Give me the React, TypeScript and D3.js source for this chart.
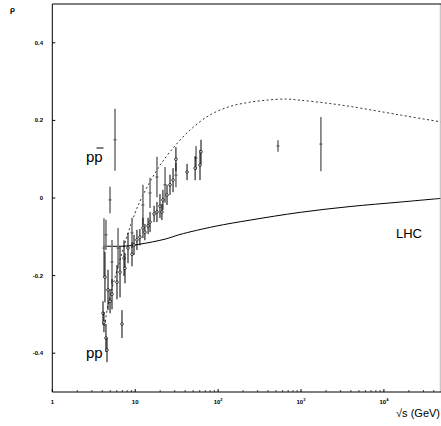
import React from "react";
import * as d3 from "d3";

// sqrt(s) in GeV, rho, error on rho
const ppS = [4.09, 4.2, 4.44, 4.57, 4.32, 4.7, 4.97, 5.25, 6.03, 6.56, 6.93, 7.33, 7.53, 8.19, 9.15, 9.68, 10.5, 11.4, 12.4, 13.1, 14.3, 15.1, 16.9, 18.3, 19.9, 21.6, 21.0, 24.2, 26.3, 28.6, 31.0, 42.2, 52.8, 60.5, 62.2];
const ppRho = [-0.297, -0.32, -0.361, -0.392, -0.204, -0.237, -0.266, -0.248, -0.217, -0.191, -0.325, -0.155, -0.181, -0.129, -0.145, -0.121, -0.108, -0.101, -0.077, -0.088, -0.072, -0.062, -0.041, -0.036, -0.021, -0.005, -0.036, 0.008, 0.034, 0.046, 0.1, 0.067, 0.077, 0.085, 0.119];
const ppErr = [0.031, 0.026, 0.036, 0.031, 0.065, 0.052, 0.031, 0.039, 0.044, 0.065, 0.036, 0.046, 0.039, 0.039, 0.031, 0.026, 0.026, 0.021, 0.026, 0.021, 0.021, 0.026, 0.021, 0.026, 0.031, 0.026, 0.021, 0.026, 0.026, 0.031, 0.031, 0.021, 0.031, 0.039, 0.031];

const pbarS = [4.97, 5.71, 4.2, 4.44, 5.25, 6.21, 9.15, 12.4, 15.1, 18.3, 22.9, 31.0, 54.2, 528, 1738];
const pbarRho = [-0.005, 0.15, -0.129, -0.095, -0.165, -0.129, -0.09, -0.018, 0.013, 0.054, 0.034, 0.059, 0.103, 0.134, 0.139];
const pbarErr = [0.034, 0.08, 0.077, 0.039, 0.057, 0.052, 0.039, 0.052, 0.039, 0.052, 0.046, 0.031, 0.031, 0.015, 0.07];

// model curves
const dashS = [4.3, 4.7, 7.53, 9.95, 12.1, 18.3, 26.3, 45.8, 79.8, 139, 243, 423, 678, 977, 1950, 3908, 15670, 48900];
const dashRho = [-0.33, -0.276, -0.116, -0.039, 0.003, 0.072, 0.119, 0.175, 0.214, 0.236, 0.247, 0.253, 0.255, 0.252, 0.245, 0.236, 0.214, 0.196];
const solidS = [4.09, 7.53, 11.4, 22.9, 34.7, 91.8, 243, 977, 3908, 15670, 48900];
const solidRho = [-0.124, -0.124, -0.119, -0.106, -0.094, -0.073, -0.057, -0.037, -0.022, -0.0105, -0.001];

const yTicks = [0.4, 0.2, 0, -0.2, -0.4];
const yTickLabels = ["0.4", "0.2", "0", "-0.2", "-0.4"];
const xDecades = [0, 1, 2, 3, 4];

const W = 441;
const H = 426;
const left = 52.3;
const right = 440.3;
const top = 4;
const bottom = 392;

export default function App() {
  const x = d3.scaleLog().domain([1, Math.pow(10, (right - left) / 82.9)]).range([left, right]);
  const y = d3.scaleLinear().domain([-0.5, 0.5]).range([bottom, top]);

  const line = d3
    .line<[number, number]>()
    .x((d) => x(d[0]))
    .y((d) => y(d[1]))
    .curve(d3.curveCatmullRom.alpha(0.5));

  const dashPts = dashS.map((s, i) => [s, dashRho[i]] as [number, number]);
  const solidPts = solidS.map((s, i) => [s, solidRho[i]] as [number, number]);

  const minor: number[] = [];
  xDecades.forEach((d) => {
    for (let k = 2; k <= 9; k++) {
      const v = k * Math.pow(10, d);
      if (x(v) < right) minor.push(v);
    }
  });

  const font = "Arial, 'Liberation Sans', sans-serif";

  return (
    <svg
      width={W}
      height={H}
      style={{ position: "absolute", left: 0, top: 0, background: "#fff" }}
      fontFamily={font}
    >
      <defs>
        <clipPath id="plot">
          <rect x={left} y={top} width={right - left} height={bottom - top} />
        </clipPath>
      </defs>

      {/* frame */}
      <line x1={right} x2={right} y1={top} y2={bottom} stroke="#bbb" />
      <line x1={left} x2={W} y1={top} y2={top} stroke="#000" />
      <line x1={left} x2={left} y1={top} y2={bottom} stroke="#000" />
      <line x1={left} x2={W} y1={bottom} y2={bottom} stroke="#000" />

      {/* y ticks */}
      {yTicks.map((t, i) => (
        <g key={t}>
          <line x1={left} x2={left + 3} y1={y(t)} y2={y(t)} stroke="#000" />
          <text x={43} y={y(t) + 2} textAnchor="end" fontSize={6} fontWeight="bold">
            {yTickLabels[i]}
          </text>
        </g>
      ))}
      <text x={10} y={12} fontSize={8} fontWeight="bold">ρ</text>

      {/* x ticks */}
      {minor.map((v) => (
        <line key={v} x1={x(v)} x2={x(v)} y1={bottom} y2={bottom - 2} stroke="#000" strokeWidth={0.7} />
      ))}
      {xDecades.map((d) => {
        const px = x(Math.pow(10, d));
        return (
          <g key={d}>
            <line x1={px} x2={px} y1={bottom} y2={bottom - 3} stroke="#000" />
            <text x={px} y={404} textAnchor="middle" fontSize={6} fontWeight="bold">
              {d === 0 ? "1" : "10"}
              {d >= 2 && (
                <tspan dy={-3} fontSize={4}>
                  {d}
                </tspan>
              )}
            </text>
          </g>
        );
      })}
      <text x={440} y={417} textAnchor="end" fontSize={11}>√s (GeV)</text>

      <g clipPath="url(#plot)">
        <path d={line(dashPts) ?? ""} fill="none" stroke="#333" strokeWidth={1} strokeDasharray="2,2.5" />
        <path d={line(solidPts) ?? ""} fill="none" stroke="#000" strokeWidth={1} />

        {/* pbar-p data */}
        {pbarS.map((s, i) => (
          <g key={"a" + i}>
            <line
              x1={x(s)}
              x2={x(s)}
              y1={y(pbarRho[i] - pbarErr[i])}
              y2={y(pbarRho[i] + pbarErr[i])}
              stroke="#777"
              strokeWidth={1.6}
            />
            <line x1={x(s) - 1.5} x2={x(s) + 1.5} y1={y(pbarRho[i])} y2={y(pbarRho[i])} stroke="#444" />
          </g>
        ))}

        {/* pp data */}
        {ppS.map((s, i) => (
          <g key={"b" + i}>
            <line
              x1={x(s)}
              x2={x(s)}
              y1={y(ppRho[i] - ppErr[i])}
              y2={y(ppRho[i] + ppErr[i])}
              stroke="#000"
              strokeWidth={1}
            />
            <circle cx={x(s)} cy={y(ppRho[i])} r={1.3} fill="#fff" stroke="#000" strokeWidth={0.8} />
          </g>
        ))}
      </g>

      <text x={86} y={162} fontSize={15}>pp</text>
      <line x1={96.5} x2={103.5} y1={148} y2={148} stroke="#000" strokeWidth={1} />
      <text x={86} y={358} fontSize={15}>pp</text>
      <text x={396} y={238} fontSize={13}>LHC</text>
    </svg>
  );
}
